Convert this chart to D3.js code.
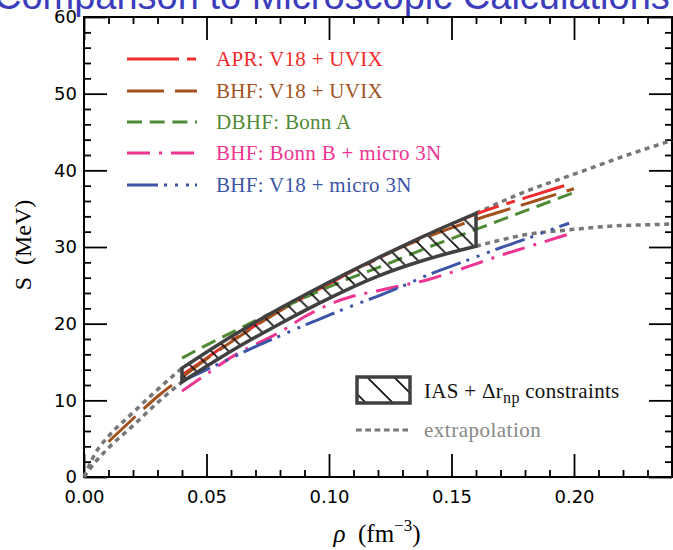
<!DOCTYPE html>
<html>
<head>
<meta charset="utf-8">
<script src="https://cdn.jsdelivr.net/npm/d3@7"></script>
<style>
	body { margin: 0; background: #fff; }
	svg { display: block; }
</style>
</head>
<body>
<div id="chart"></div>
<script>
// ---- data (rho in fm^-3, S in MeV) ----
const xMajor = [0, 0.05, 0.1, 0.15, 0.2];
const yMajor = [0, 10, 20, 30, 40, 50, 60];

const aprRho = [0.04, 0.05, 0.06, 0.07, 0.08, 0.09, 0.1, 0.11, 0.12, 0.13, 0.14, 0.15, 0.16, 0.17, 0.18, 0.19, 0.196];
const aprS = [13.3, 15.5, 17.7, 19.8, 21.7, 23.5, 25.2, 26.9, 28.5, 30.1, 31.6, 33.0, 34.3, 35.4, 36.4, 37.4, 38.0];

const bhfRho = [0.01, 0.02, 0.03, 0.04, 0.05, 0.06, 0.07, 0.08, 0.09, 0.1, 0.11, 0.12, 0.13, 0.14, 0.15, 0.16, 0.17, 0.18, 0.19, 0.2];
const bhfS = [4.6, 7.6, 10.5, 13.0, 15.4, 17.6, 19.7, 21.7, 23.6, 25.4, 27.0, 28.5, 30.0, 31.3, 32.5, 33.6, 34.6, 35.6, 36.6, 37.6];

const dbhfRho = [0.04, 0.05, 0.06, 0.07, 0.08, 0.09, 0.1, 0.11, 0.12, 0.13, 0.14, 0.15, 0.16, 0.17, 0.18, 0.19, 0.2];
const dbhfS = [15.5, 17.2, 18.8, 20.4, 21.9, 23.4, 24.8, 26.1, 27.3, 28.6, 29.9, 31.1, 32.3, 33.5, 34.7, 35.9, 37.1];

const bonnRho = [0.04, 0.05, 0.06, 0.07, 0.08, 0.09, 0.1, 0.11, 0.12, 0.13, 0.14, 0.15, 0.16, 0.17, 0.18, 0.19, 0.198];
const bonnS = [11.2, 13.4, 15.6, 17.3, 18.9, 20.9, 22.5, 23.6, 24.3, 25.0, 25.7, 26.7, 27.8, 28.9, 29.9, 30.9, 31.7];

const v18mRho = [0.04, 0.05, 0.06, 0.07, 0.08, 0.09, 0.1, 0.11, 0.12, 0.13, 0.14, 0.15, 0.16, 0.17, 0.18, 0.19, 0.198];
const v18mS = [12.5, 14.0, 15.5, 17.0, 18.4, 19.8, 21.1, 22.4, 23.6, 24.9, 26.3, 27.5, 28.7, 29.9, 31.0, 32.2, 33.1];

// IAS + delta r_np constraint band
const bandRho = [0.04, 0.06, 0.08, 0.1, 0.12, 0.14, 0.16];
const bandUpper = [14.2, 18.3, 22.0, 25.4, 28.6, 31.6, 34.4];
const bandLower = [12.4, 16.4, 20.0, 23.3, 26.2, 28.4, 30.1];

// extrapolation of the band
const extUpLowRho = [0, 0.005, 0.01, 0.02, 0.03, 0.04];
const extUpLowS = [0, 3.3, 5.3, 8.4, 11.4, 14.2];
const extUpHighRho = [0.16, 0.18, 0.2, 0.22, 0.24];
const extUpHighS = [34.4, 37.2, 39.5, 41.8, 43.9];
const extLoLowRho = [0, 0.005, 0.01, 0.02, 0.03, 0.04];
const extLoLowS = [0, 2.1, 3.8, 6.7, 9.7, 12.4];
const extLoHighRho = [0.16, 0.17, 0.18, 0.19, 0.2, 0.21, 0.22, 0.23, 0.24];
const extLoHighS = [30.1, 30.9, 31.6, 32.0, 32.3, 32.6, 32.8, 32.9, 33.0];

const seriesNames = ["APR: V18 + UVIX", "BHF: V18 + UVIX", "DBHF: Bonn A", "BHF: Bonn B + micro 3N", "BHF: V18 + micro 3N"];
const seriesColors = ["#f02b2b", "#a3521f", "#4f8a35", "#ee3592", "#3c55a7"];
const seriesDash = ["52,8,9,8", "37,11", "15,7.7", "23,9,3,9", "31,6,3,8,3,8,3,6"];

const zip = (a, b) => a.map((v, i) => [v, b[i]]);
const seriesData = [
	zip(aprRho, aprS),
	zip(bhfRho, bhfS),
	zip(dbhfRho, dbhfS),
	zip(bonnRho, bonnS),
	zip(v18mRho, v18mS),
];

// ---- layout ----
const width = 673;
const height = 550;
const plotLeft = 84, plotRight = 672, plotTop = 17, plotBottom = 477;

const svg = d3
	.select("#chart")
	.append("svg")
	.attr("width", width)
	.attr("height", height);

const x = d3.scaleLinear().domain([0, 0.24]).range([plotLeft, plotRight]);
const y = d3.scaleLinear().domain([0, 60]).range([plotBottom, plotTop]);

// title, cut off at the top like in the slide
svg.append("text")
	.attr("x", -6)
	.attr("y", 9)
	.attr("font-family", "Liberation Sans, Arial, sans-serif")
	.attr("font-size", 38)
	.attr("fill", "#3c3cbc")
	.text("Comparison to Microscopic Calculations");

const defs = svg.append("defs");
defs.append("pattern")
	.attr("id", "hatch")
	.attr("patternUnits", "userSpaceOnUse")
	.attr("width", 17.5)
	.attr("height", 17.5)
	.append("path")
	.attr("d", "M0,0L17.5,17.5M-5,12.5L5,22.5M12.5,-5L22.5,5")
	.attr("stroke", "#111")
	.attr("stroke-width", 1.7);
defs.append("pattern")
	.attr("id", "hatchKey")
	.attr("patternUnits", "userSpaceOnUse")
	.attr("x", -10)
	.attr("width", 27)
	.attr("height", 27)
	.append("path")
	.attr("d", "M0,0L27,27M-5,22L5,32M22,-5L32,5")
	.attr("stroke", "#111")
	.attr("stroke-width", 1.7);

// ---- axes ----
const minorX = d3.range(0, 0.2401, 0.01).map((d) => +d.toFixed(2)).filter((d) => !xMajor.includes(d));
const minorY = d3.range(0, 61, 2).filter((d) => d % 10 !== 0);

function styleAxis(g) {
	g.select(".domain").remove();
	g.selectAll(".tick line").attr("stroke", "#000").attr("stroke-width", 1.8);
	g.selectAll(".tick text")
		.attr("font-family", "DejaVu Sans, sans-serif")
		.attr("font-size", 18)
		.attr("fill", "#000");
}

svg.append("g")
	.attr("transform", `translate(0,${plotBottom})`)
	.call(d3.axisBottom(x).tickValues(xMajor).tickSize(-23).tickPadding(13).tickFormat(d3.format(".2f")))
	.call(styleAxis);
svg.append("g")
	.attr("transform", `translate(0,${plotBottom})`)
	.call(d3.axisBottom(x).tickValues(minorX).tickSize(-7).tickFormat(""))
	.call(styleAxis);
svg.append("g")
	.attr("transform", `translate(0,${plotTop})`)
	.call(d3.axisTop(x).tickValues(xMajor).tickSize(-23).tickFormat(""))
	.call(styleAxis);
svg.append("g")
	.attr("transform", `translate(0,${plotTop})`)
	.call(d3.axisTop(x).tickValues(minorX).tickSize(-7).tickFormat(""))
	.call(styleAxis);

svg.append("g")
	.attr("transform", `translate(${plotLeft},0)`)
	.call(d3.axisLeft(y).tickValues(yMajor).tickSize(-23).tickPadding(7))
	.call(styleAxis);
svg.append("g")
	.attr("transform", `translate(${plotLeft},0)`)
	.call(d3.axisLeft(y).tickValues(minorY).tickSize(-7).tickFormat(""))
	.call(styleAxis);
svg.append("g")
	.attr("transform", `translate(${plotRight},0)`)
	.call(d3.axisRight(y).tickValues(yMajor).tickSize(-23).tickFormat(""))
	.call(styleAxis);
svg.append("g")
	.attr("transform", `translate(${plotRight},0)`)
	.call(d3.axisRight(y).tickValues(minorY).tickSize(-7).tickFormat(""))
	.call(styleAxis);

svg.append("rect")
	.attr("x", plotLeft)
	.attr("y", plotTop)
	.attr("width", plotRight - plotLeft)
	.attr("height", plotBottom - plotTop)
	.attr("fill", "none")
	.attr("stroke", "#000")
	.attr("stroke-width", 2);

// axis titles
svg.append("text")
	.attr("transform", "translate(31,245) rotate(-90)")
	.attr("text-anchor", "middle")
	.attr("font-family", "Liberation Serif, serif")
	.attr("font-size", 24)
	.text("S\u2002(MeV)");

const xt = svg.append("text")
	.attr("x", 377)
	.attr("y", 542)
	.attr("text-anchor", "middle")
	.attr("font-family", "Liberation Serif, serif")
	.attr("font-size", 25);
xt.append("tspan").attr("font-style", "italic").text("\u03c1");
xt.append("tspan").text("\u2002(fm");
xt.append("tspan").attr("dy", -11).attr("font-size", 17).text("\u22123");
xt.append("tspan").attr("dy", 11).text(")");

// ---- curves ----
const line = d3
	.line()
	.x((d) => x(d[0]))
	.y((d) => y(d[1]))
	.curve(d3.curveMonotoneX);

const plot = svg.append("g");

[
	zip(extUpLowRho, extUpLowS),
	zip(extUpHighRho, extUpHighS),
	zip(extLoLowRho, extLoLowS),
	zip(extLoHighRho, extLoHighS),
].forEach((pts) => {
	plot.append("path")
		.attr("d", line(pts))
		.attr("fill", "none")
		.attr("stroke", "#777")
		.attr("stroke-width", 3.5)
		.attr("stroke-dasharray", "5,4.5");
});

seriesData.forEach((pts, i) => {
	plot.append("path")
		.attr("d", line(pts))
		.attr("fill", "none")
		.attr("stroke", seriesColors[i])
		.attr("stroke-width", 3)
		.attr("stroke-dasharray", seriesDash[i]);
});

// constraint band
const band = d3
	.area()
	.x((d, i) => x(bandRho[i]))
	.y0((d, i) => y(bandLower[i]))
	.y1((d, i) => y(bandUpper[i]))
	.curve(d3.curveMonotoneX);

plot.append("path")
	.attr("d", band(bandRho))
	.attr("fill", "url(#hatch)")
	.attr("stroke", "#404040")
	.attr("stroke-width", 3.5)
	.attr("stroke-linejoin", "miter");

// ---- legend ----
const legend = svg.append("g");
const rowY = [59, 91, 122, 153, 185];

seriesNames.forEach((name, i) => {
	legend.append("line")
		.attr("x1", 127)
		.attr("x2", 197)
		.attr("y1", rowY[i])
		.attr("y2", rowY[i])
		.attr("stroke", seriesColors[i])
		.attr("stroke-width", 3)
		.attr("stroke-dasharray", seriesDash[i]);
	legend.append("text")
		.attr("x", 216)
		.attr("y", rowY[i] + 7)
		.attr("font-family", "Liberation Serif, serif")
		.attr("font-size", 21)
		.attr("letter-spacing", 0.3)
		.attr("fill", seriesColors[i])
		.text(name);
});

legend.append("rect")
	.attr("x", 357)
	.attr("y", 377)
	.attr("width", 53)
	.attr("height", 26)
	.attr("fill", "url(#hatchKey)")
	.attr("stroke", "#404040")
	.attr("stroke-width", 3.5);

const kt = legend.append("text")
	.attr("x", 424)
	.attr("y", 398)
	.attr("font-family", "Liberation Serif, serif")
	.attr("font-size", 21)
	.attr("letter-spacing", 0.3)
	.attr("fill", "#111");
kt.append("tspan").text("IAS + \u0394r");
kt.append("tspan").attr("dy", 5).attr("font-size", 16).text("np");
kt.append("tspan").attr("dy", -5).text(" constraints");

legend.append("line")
	.attr("x1", 356)
	.attr("x2", 408)
	.attr("y1", 430)
	.attr("y2", 430)
	.attr("stroke", "#777")
	.attr("stroke-width", 3)
	.attr("stroke-dasharray", "5.7,3.6");

legend.append("text")
	.attr("x", 424)
	.attr("y", 437)
	.attr("font-family", "Liberation Serif, serif")
	.attr("font-size", 21)
	.attr("letter-spacing", 0.5)
	.attr("fill", "#888")
	.text("extrapolation");
</script>
</body>
</html>
